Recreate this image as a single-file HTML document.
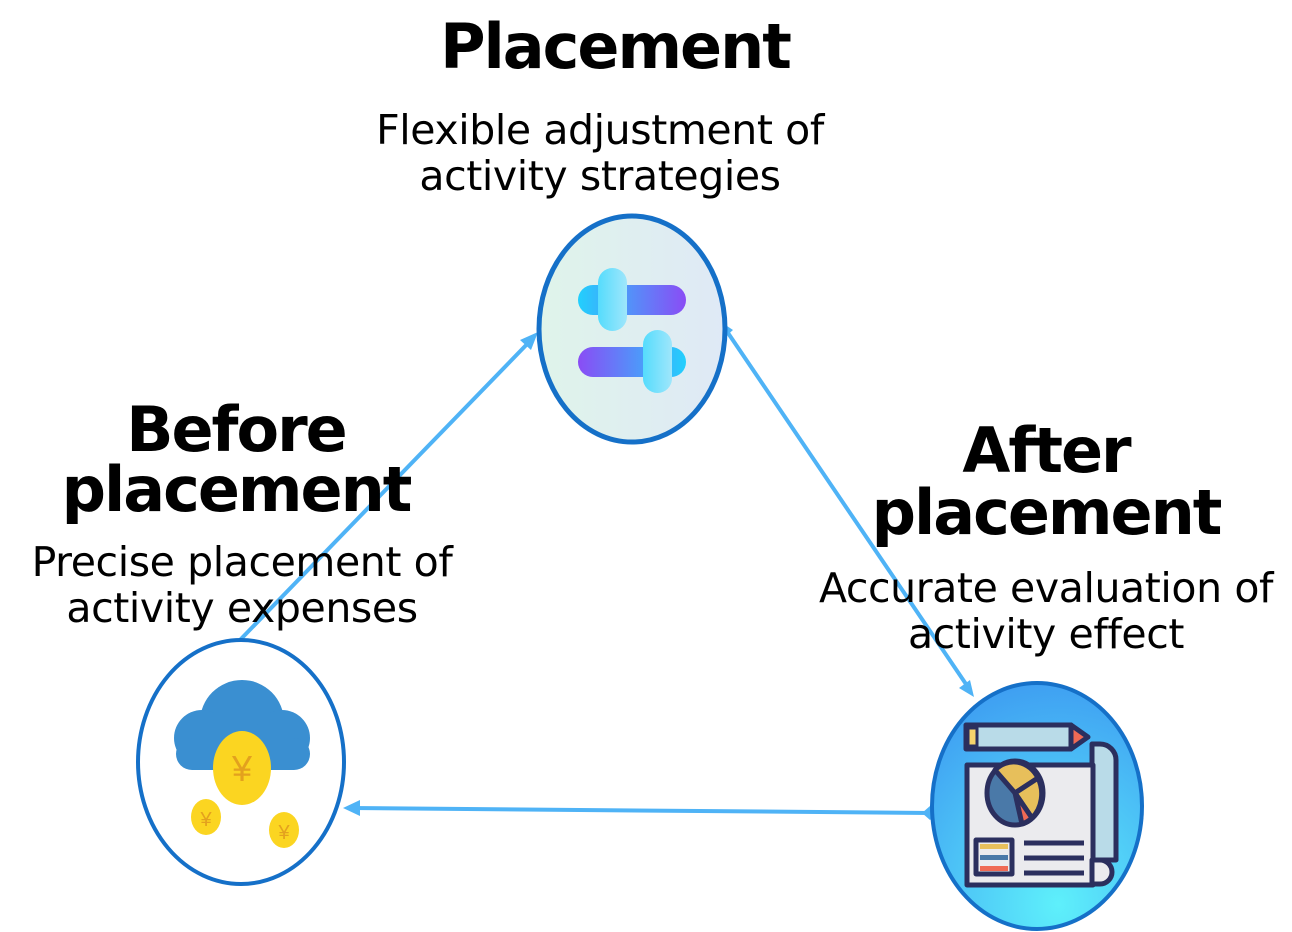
<!DOCTYPE html>
<html><head><style>
body{margin:0;width:1292px;height:932px;background:#fff;position:relative;overflow:hidden;font-family:"DejaVu Sans",sans-serif;color:#000}
.t{position:absolute;text-align:center;font-weight:bold;letter-spacing:-2px;line-height:0.88}
.s{position:absolute;text-align:center;font-size:41px;line-height:46px;letter-spacing:-0.4px}
</style></head><body>
<svg width="1292" height="932" style="position:absolute;left:0;top:0">
<defs>
<linearGradient id="g1" x1="0" x2="1"><stop offset="0" stop-color="#dff4ea"/><stop offset="1" stop-color="#dfe9f6"/></linearGradient>
<radialGradient id="g2" cx="0.6" cy="0.9" r="0.9"><stop offset="0" stop-color="#5ef0fb"/><stop offset="1" stop-color="#3fa0f2"/></radialGradient>
<linearGradient id="b1" x1="0" x2="1"><stop offset="0" stop-color="#22d0fd"/><stop offset="1" stop-color="#8a4cf5"/></linearGradient>
<linearGradient id="b2" x1="1" x2="0"><stop offset="0" stop-color="#22d0fd"/><stop offset="1" stop-color="#8a4cf5"/></linearGradient>
<linearGradient id="k" x1="0" x2="1"><stop offset="0" stop-color="#55dcfd"/><stop offset="1" stop-color="#9fe6fb"/></linearGradient>
</defs>
<g stroke="#4fb3f6" stroke-width="4" fill="#4fb3f6">
<line x1="240" y1="640" x2="533" y2="338"/>
<polygon points="538,332 520,340 531,350" stroke="none"/>
<line x1="726" y1="330" x2="970" y2="690"/>
<polygon points="974,697 959,688 970,680" stroke="none"/>
<polygon points="721,322 733,330 724,338" stroke="none"/>
<line x1="930" y1="813" x2="350" y2="808"/>
<polygon points="343,808 360,800 360,816" stroke="none"/>
<polygon points="922,813 930,806 938,813 930,820" stroke="none"/>
</g>
<ellipse cx="632" cy="329" rx="93" ry="113" fill="url(#g1)" stroke="#1570c8" stroke-width="5"/>
<rect x="578" y="285" width="108" height="30" rx="15" fill="url(#b1)"/>
<rect x="598" y="268" width="29" height="63" rx="14.5" fill="url(#k)"/>
<rect x="578" y="347" width="108" height="30" rx="15" fill="url(#b2)"/>
<rect x="643" y="330" width="29" height="63" rx="14.5" fill="url(#k)"/>
<ellipse cx="241" cy="762" rx="103" ry="122" fill="#fff" stroke="#1570c8" stroke-width="4"/>
<g fill="#3a8fd1"><circle cx="242" cy="722" r="42"/><circle cx="202" cy="738" r="28"/><circle cx="282" cy="738" r="28"/><rect x="176" y="738" width="134" height="32" rx="16"/></g>
<ellipse cx="242" cy="768" rx="29" ry="37" fill="#fbd521"/>
<ellipse cx="206" cy="817" rx="15" ry="18" fill="#fbd521"/>
<ellipse cx="284" cy="830" rx="15" ry="18" fill="#fbd521"/>
<g fill="#e3a11e" font-size="36" font-family="Liberation Sans" text-anchor="middle"><text x="242" y="781">¥</text><text x="206" y="826" font-size="20">¥</text><text x="284" y="839" font-size="20">¥</text></g>
<ellipse cx="1037" cy="806" rx="105" ry="123" fill="url(#g2)" stroke="#1570c8" stroke-width="4"/>
<g stroke="#2b2f5e" stroke-width="5" stroke-linejoin="round">
<path d="M1092 744 h8 a16 16 0 0 1 16 16 v100 h-24z" fill="#b9dbe8"/>
<rect x="967" y="765" width="126" height="120" fill="#ebebee"/>
<path d="M1092 860 h8 a12 12 0 0 1 12 12 v0 a12 12 0 0 1 -12 12 h-8z" fill="#ebebee"/>
<rect x="966" y="725" width="105" height="24" fill="#b9dbe8"/>
<polygon points="1071,725 1088,737 1071,749" fill="#ef6a55"/>
<rect x="968" y="728" width="9" height="18" fill="#f6d36c" stroke-width="3"/>
<ellipse cx="1015" cy="793" rx="28" ry="32" fill="#4a79a8"/>
<path d="M1015 793 L995 770 A28 32 0 0 1 1038 778 Z" fill="#e7bf5b"/>
<path d="M1015 793 L1038 778 A28 32 0 0 1 1032 818 Z" fill="#e7bf5b"/>
<path d="M1015 793 L1032 818 A28 32 0 0 1 1022 824 Z" fill="#ef6a55"/>
<rect x="976" y="840" width="36" height="34" fill="#ebebee"/>
<line x1="1024" y1="843" x2="1084" y2="843"/><line x1="1024" y1="858" x2="1084" y2="858"/><line x1="1024" y1="873" x2="1084" y2="873"/>
</g>
<rect x="980" y="844" width="28" height="5" fill="#e7bf5b"/><rect x="980" y="855" width="28" height="5" fill="#4a79a8"/><rect x="980" y="866" width="28" height="5" fill="#ef6a55"/>
</svg>
<div class="t" style="left:315px;width:600px;top:20px;font-size:62px">Placement</div>
<div class="s" style="left:300px;width:600px;top:107px">Flexible adjustment of<br>activity strategies</div>
<div class="t" style="left:-64px;width:600px;top:400px;font-size:62px;line-height:60px">Before<br>placement</div>
<div class="s" style="left:-58px;width:600px;top:539px">Precise placement of<br>activity expenses</div>
<div class="t" style="left:746px;width:600px;top:420px;font-size:62px;line-height:62px">After<br>placement</div>
<div class="s" style="left:746px;width:600px;top:565px">Accurate evaluation of<br>activity effect</div>
</body></html>
